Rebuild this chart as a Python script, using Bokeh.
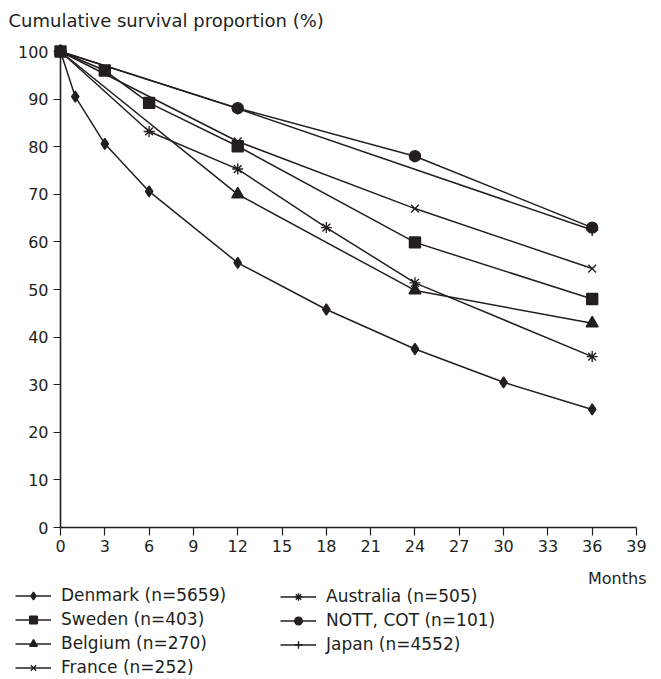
from bokeh.plotting import figure
from bokeh.models import Legend, LegendItem, Label, FixedTicker, Range1d, LinearAxis
from bokeh.embed import file_html
from bokeh.resources import INLINE

# ---- data ----
months_denmark = [0, 1, 3, 6, 12, 18, 24, 30, 36]
denmark = [100, 90.5, 80.6, 70.6, 55.6, 45.8, 37.5, 30.5, 24.8]

months_sweden = [0, 3, 6, 12, 24, 36]
sweden = [100, 96.0, 89.2, 80.1, 59.9, 48.0]

months_belgium = [0, 12, 24, 36]
belgium = [100, 70.0, 49.8, 42.9]

months_france = [0, 12, 24, 36]
france = [100, 81.1, 67.0, 54.4]

months_australia = [0, 6, 12, 18, 24, 36]
australia = [100, 83.2, 75.3, 63.0, 51.4, 35.9]

months_nott = [0, 12, 24, 36]
nott = [100, 88.1, 78.0, 63.0]

months_japan = [0, 12, 36]
japan = [100, 88.0, 62.5]

labels = ["Denmark (n=5659)", "Sweden (n=403)", "Belgium (n=270)", "France (n=252)",
          "Australia (n=505)", "NOTT, COT (n=101)", "Japan (n=4552)"]

x_ticks = list(range(0, 40, 3))
y_ticks = list(range(0, 101, 10))

FONT = "DejaVu Sans"
INK = "#231f20"

W, H = 661, 679
# plotting area of the reference: x 0..39 -> px 60..636 ; y 0..100 -> px 527..51
X0, X1 = 60, 636
Y0, Y1 = 527, 51
xs_per_px = 39 / (X1 - X0)
ys_per_px = 100 / (Y0 - Y1)
x_range = Range1d(-X0 * xs_per_px, 39 + (W - X1) * xs_per_px)
y_range = Range1d(-(H - Y0) * ys_per_px, 100 + Y1 * ys_per_px)

p = figure(width=W, height=H, output_backend="svg", toolbar_location=None,
           x_range=x_range, y_range=y_range,
           x_axis_location=None, y_axis_location=None,
           min_border=0)
p.outline_line_color = None
p.grid.visible = False
p.background_fill_color = "white"
p.border_fill_color = "white"

xaxis = LinearAxis(fixed_location=0, bounds=(0, 39), ticker=FixedTicker(ticks=x_ticks))
yaxis = LinearAxis(fixed_location=0, bounds=(0, 100), ticker=FixedTicker(ticks=y_ticks))
for ax in (xaxis, yaxis):
    ax.axis_line_color = INK
    ax.axis_line_width = 1.6
    ax.major_tick_line_color = INK
    ax.major_tick_line_width = 1.2
    ax.minor_tick_line_color = None
    ax.major_tick_in = 0
    ax.major_label_text_font = FONT
    ax.major_label_text_font_size = "16px"
    ax.major_label_text_color = INK
xaxis.major_tick_out = 8
yaxis.major_tick_out = 7
xaxis.major_label_standoff = 4
yaxis.major_label_standoff = 5
p.add_layout(xaxis, "below")
p.add_layout(yaxis, "left")

p.add_layout(Label(x=8, y=H - 20, x_units="screen", y_units="screen",
                   text="Cumulative survival proportion (%)", text_font=FONT,
                   text_font_size="18px", text_color=INK, text_baseline="middle"))
p.add_layout(Label(x=646, y=H - 578, x_units="screen", y_units="screen",
                   text="Months", text_font=FONT, text_font_size="16px",
                   text_color=INK, text_baseline="middle", text_align="right"))

# (x, y, marker, size)
series = [
    (months_denmark, denmark, "diamond", 11),
    (months_sweden, sweden, "square", 11),
    (months_belgium, belgium, "triangle", 12),
    (months_france, france, "x", 11),
    (months_australia, australia, "asterisk", 11),
    (months_nott, nott, "circle", 11),
    (months_japan, japan, "cross", 12),
]

items = []
for (xs, ys, marker, size), lab in zip(series, labels):
    ln = p.line(xs, ys, line_color=INK, line_width=1.5)
    sc = p.scatter(xs, ys, marker=marker, size=size, fill_color=INK, line_color=INK,
                   line_width=1.4)
    items.append(LegendItem(label=lab, renderers=[ln, sc]))


def make_legend(its, loc):
    return Legend(items=its, location=loc, orientation="vertical",
                  background_fill_alpha=0, border_line_alpha=0,
                  glyph_width=36, glyph_height=19, label_height=19, label_standoff=10,
                  spacing=4, padding=0, margin=0,
                  label_text_font=FONT, label_text_font_size="17px", label_text_color=INK)


p.add_layout(make_legend(items[:4], (15, 2)), "center")
p.add_layout(make_legend(items[4:], (280, 25)), "center")

open("out.html", "w").write(file_html(p, INLINE))
